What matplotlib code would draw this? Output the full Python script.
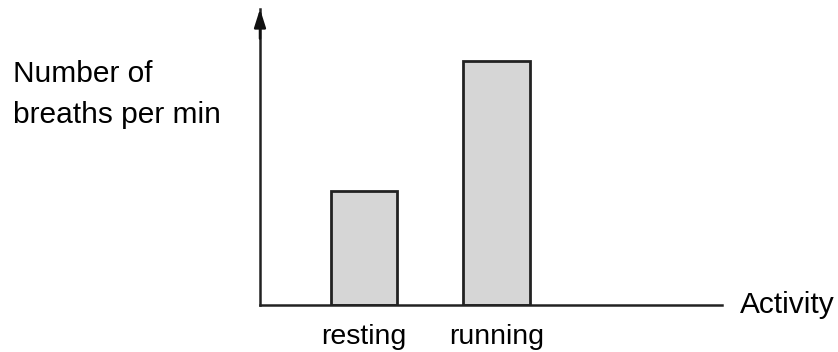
import matplotlib.pyplot as plt

activities = ['resting', 'running']
breaths = [15, 32]

plt.rcParams['font.family'] = ['Liberation Sans', 'DejaVu Sans']

W, H = 838, 352
fig = plt.figure(figsize=(W / 100, H / 100), dpi=100, facecolor='w')
# axes box in pixels: left spine x=260, bottom y=305, top y=9, right end x=722
ax = fig.add_axes([260 / W, (H - 305) / H, (722 - 260) / W, (305 - 9) / H])

pos = range(len(activities))
ax.bar(pos, breaths, width=0.5, color='#d6d6d6', edgecolor='#222222', linewidth=2)

ax.set_xlim(-0.785, 2.70)
ax.set_ylim(0, 38.8)

for s in ['top', 'right']:
    ax.spines[s].set_visible(False)
for s in ['left', 'bottom']:
    ax.spines[s].set_linewidth(1.8)
    ax.spines[s].set_color('#222222')

ax.set_yticks([])
ax.set_xticks(list(pos))
ax.set_xticklabels(activities, fontsize=20.5)
ax.tick_params(axis='x', length=0, pad=14)

# arrow on top of y axis
ax.annotate('', xy=(0, 1.0), xycoords='axes fraction', xytext=(0, 0.9),
            textcoords='axes fraction',
            arrowprops=dict(arrowstyle='-|>,head_length=1.1,head_width=0.35',
                            color='#111111', lw=1.8, shrinkA=0, shrinkB=0))

ax.text(1.039, 0.0, 'Activity', transform=ax.transAxes, fontsize=21.5,
        ha='left', va='center')
fig.text(13 / W, 1 - 60 / H, 'Number of\nbreaths per min', fontsize=21.5,
         ha='left', va='top', linespacing=1.6)

fig.savefig('out.png', dpi=100)
